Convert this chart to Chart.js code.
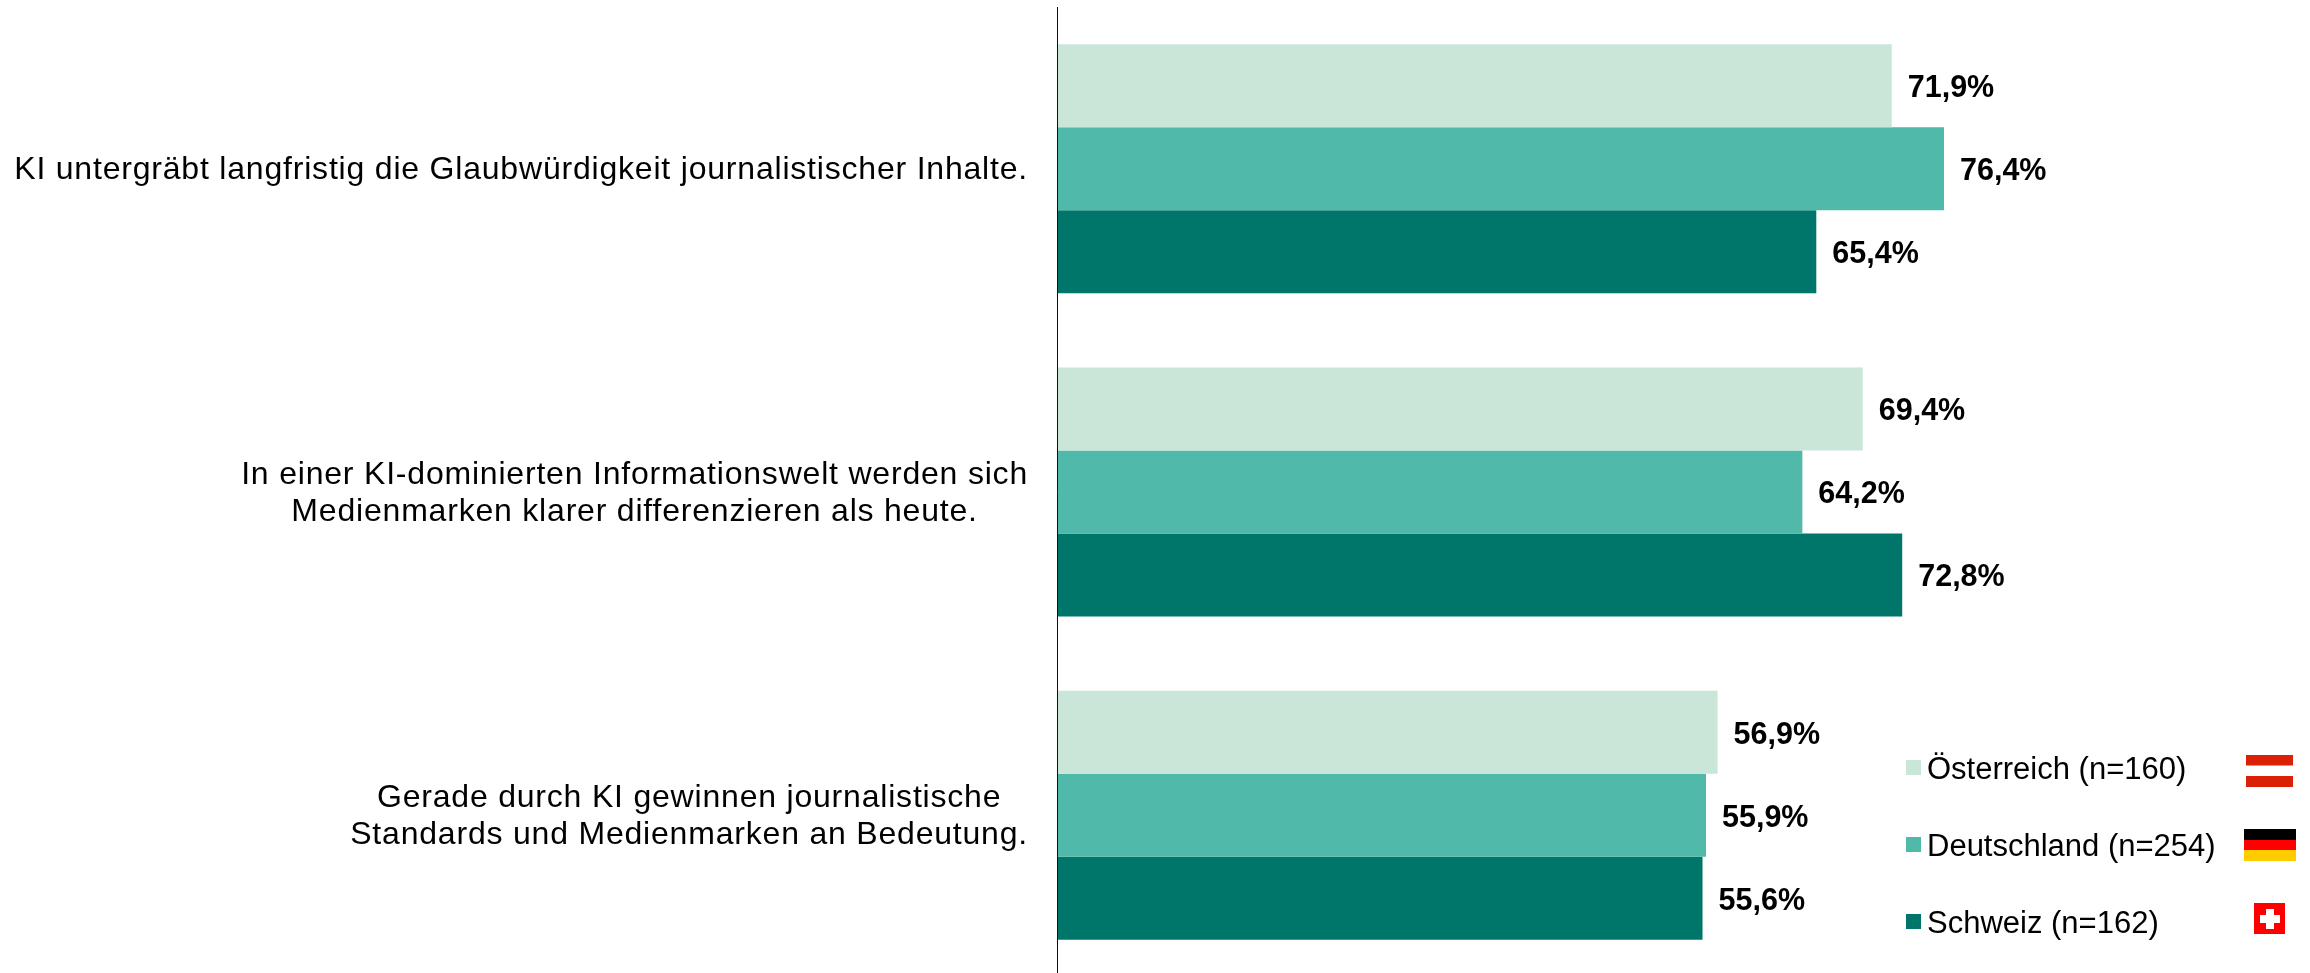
<!DOCTYPE html>
<html lang="de">
<head>
<meta charset="utf-8">
<style>
html,body{margin:0;padding:0;background:#fff;overflow:hidden;width:2310px;height:973px}
#wrap{width:2310px;height:973px;overflow:hidden;position:relative}
canvas{display:block}
</style>
<script src="https://cdn.jsdelivr.net/npm/chart.js@4"></script>
</head>
<body>
<div id="wrap"><canvas id="c" width="2310" height="980"></canvas></div>
<script>
const categories = [
  ["KI untergräbt langfristig die Glaubwürdigkeit journalistischer Inhalte."],
  ["In einer KI-dominierten Informationswelt werden sich","Medienmarken klarer differenzieren als heute."],
  ["Gerade durch KI gewinnen journalistische","Standards und Medienmarken an Bedeutung."]
];
const seriesNames = ["Österreich (n=160)","Deutschland (n=254)","Schweiz (n=162)"];
const oesterreich = [71.9,69.4,56.9];
const deutschland = [76.4,64.2,55.9];
const schweiz = [65.4,72.8,55.6];
const colors = ["#C9E6D8","#50B9AA","#00756A"];
const FONT = '"Liberation Sans", Arial, sans-serif';

const annotations = {
  id:'annotations',
  afterDatasetsDraw(chart){
    const ctx = chart.ctx;
    ctx.save();
    ctx.fillStyle='#000';
    // value labels
    ctx.font='bold 30.5px '+FONT;
    ctx.textAlign='left'; ctx.textBaseline='middle';
    chart.data.datasets.forEach((ds,i)=>{
      chart.getDatasetMeta(i).data.forEach((el,j)=>{
        ctx.fillText(ds.data[j].toFixed(1).replace('.',',')+'%', el.x+16, el.y+3);
      });
    });
    // category labels
    ctx.font='32px '+FONT;
    ctx.letterSpacing='0.8px';
    const yScale = chart.scales.y, right = 1028, lh = 36.5;
    categories.forEach((lines,i)=>{
      const w = Math.max(...lines.map(l=>ctx.measureText(l).width));
      const cy = yScale.getPixelForTick(i)+1.5;
      ctx.textAlign='center';
      lines.forEach((l,k)=>ctx.fillText(l, right-w/2, cy+(k-(lines.length-1)/2)*lh));
    });
    ctx.letterSpacing='0px';
    // legend
    ctx.font='31px '+FONT;
    ctx.textAlign='left';
    const ly=[770,847,924];
    const by=[768,845,922];
    chart.data.datasets.forEach((ds,i)=>{
      ctx.fillStyle=ds.backgroundColor;
      ctx.fillRect(1906,by[i]-8,15,15);
      ctx.fillStyle='#000';
      ctx.fillText(ds.label,1927,ly[i]);
    });
    // flags
    ctx.fillStyle='#DA2106'; ctx.fillRect(2246,755,47,32);
    ctx.fillStyle='#fff'; ctx.fillRect(2246,765.5,47,10.5);
    ctx.fillStyle='#000'; ctx.fillRect(2244,829,52,11);
    ctx.fillStyle='#FF0000'; ctx.fillRect(2244,840,52,10);
    ctx.fillStyle='#FFCC00'; ctx.fillRect(2244,850,52,11);
    ctx.fillStyle='#FF0000'; ctx.fillRect(2254,903,31,31);
    ctx.fillStyle='#fff'; ctx.fillRect(2260,915,20,8); ctx.fillRect(2266,909,8,20);
    ctx.restore();
  }
};

new Chart(document.getElementById('c'),{
  type:'bar',
  data:{
    labels:categories,
    datasets:[oesterreich,deutschland,schweiz].map((d,i)=>({
      label:seriesNames[i],data:d,backgroundColor:colors[i],borderWidth:0,
      categoryPercentage:0.77,barPercentage:1
    }))
  },
  options:{
    indexAxis:'y',responsive:false,animation:false,
    layout:{padding:{left:1057,right:92,top:7,bottom:3}},
    plugins:{legend:{display:false},tooltip:{enabled:false}},
    scales:{
      x:{display:false,min:0,max:100},
      y:{
        grid:{display:false,drawTicks:false},
        border:{display:true,color:'#111',width:1,z:1},
        ticks:{display:false}
      }
    }
  },
  plugins:[annotations]
});
</script>
</body>
</html>
